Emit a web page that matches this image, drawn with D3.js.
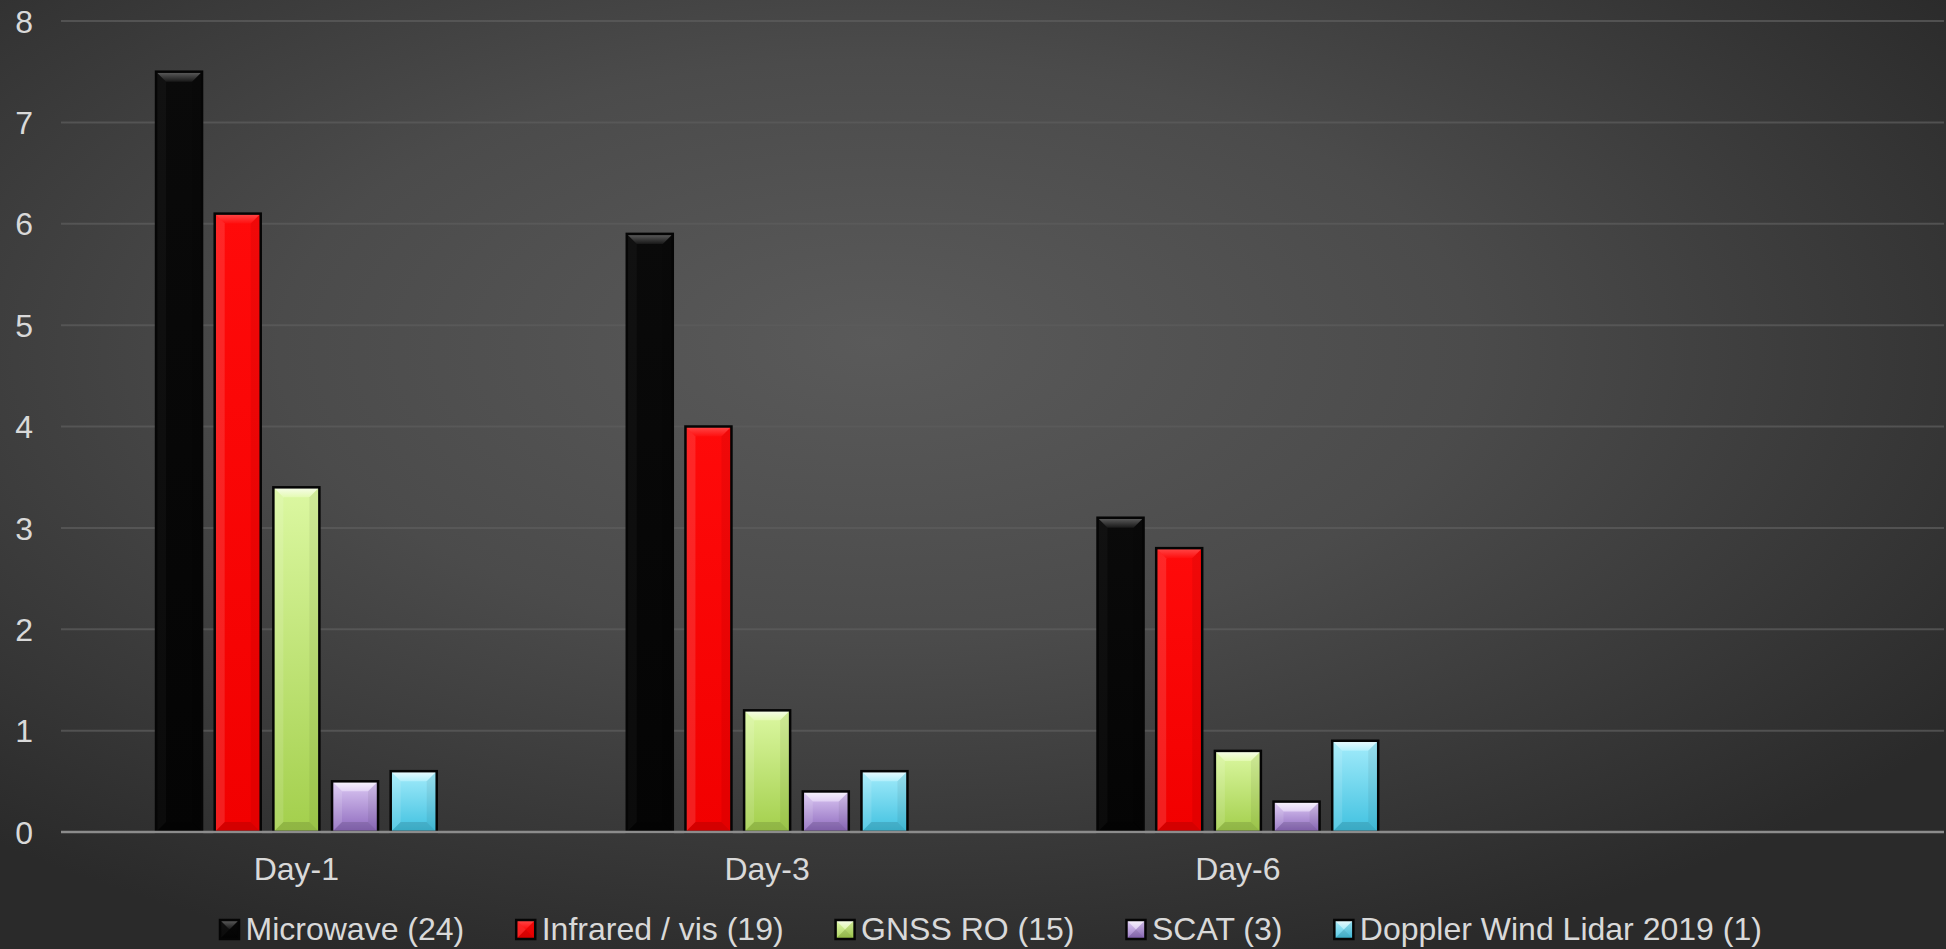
<!DOCTYPE html>
<html>
<head>
<meta charset="utf-8">
<script src="https://cdn.jsdelivr.net/npm/d3@7"></script>
<style>
  html, body { margin: 0; padding: 0; background: #2b2b2b; overflow: hidden; }
  svg { display: block; }
  text { font-family: "Liberation Sans", Arial, sans-serif; fill: #d9d9d9; }
</style>
</head>
<body>
<svg id="chart" width="1946" height="949"></svg>
<script>
// ---- data ----
const categories = ["Day-1", "Day-3", "Day-6", ""];
const seriesNames = ["Microwave (24)", "Infrared / vis (19)", "GNSS RO (15)", "SCAT (3)", "Doppler Wind Lidar 2019 (1)"];
const microwave = [7.5, 5.9, 3.1, null];
const infrared  = [6.1, 4.0, 2.8, null];
const gnss      = [3.4, 1.2, 0.8, null];
const scat      = [0.5, 0.4, 0.3, null];
const dwl       = [0.6, 0.6, 0.9, null];
const yTicks = [0, 1, 2, 3, 4, 5, 6, 7, 8];

const seriesValues = [microwave, infrared, gnss, scat, dwl];
const seriesStyle = [
  { top: "#0a0a0a", bottom: "#040404", bevel: "#6a6a6a", bevelEnd: "#1a1a1a" },
  { top: "#ff0a0a", bottom: "#f20000", bevel: "#ff5a5a", bevelEnd: "#ff1010" },
  { top: "#dcf8a2", bottom: "#a3cf4c", bevel: "#ffffff", bevelEnd: "#e6fbb8" },
  { top: "#ddcaf4", bottom: "#8d69bd", bevel: "#ffffff", bevelEnd: "#e6d8f7" },
  { top: "#a4ecfb", bottom: "#40c1e0", bevel: "#ffffff", bevelEnd: "#b8f1fc" }
];

const W = 1946, H = 949;
const FS = "32px";
const svg = d3.select("#chart");
const defs = svg.append("defs");

const bg = defs.append("radialGradient").attr("id", "bg")
  .attr("cx", 0.45).attr("cy", 0.38).attr("r", 0.68).attr("fx", 0.45).attr("fy", 0.36);
bg.append("stop").attr("offset", "0%").attr("stop-color", "#5a5a5a");
bg.append("stop").attr("offset", "45%").attr("stop-color", "#4b4b4b");
bg.append("stop").attr("offset", "100%").attr("stop-color", "#2a2a2a");
svg.append("rect").attr("width", W).attr("height", H).attr("fill", "url(#bg)");

seriesStyle.forEach((s, i) => {
  const g = defs.append("linearGradient").attr("id", "fill" + i)
    .attr("x1", 0).attr("y1", 0).attr("x2", 0).attr("y2", 1);
  g.append("stop").attr("offset", "0%").attr("stop-color", s.top);
  g.append("stop").attr("offset", "100%").attr("stop-color", s.bottom);
  const b = defs.append("linearGradient").attr("id", "bev" + i)
    .attr("x1", 0).attr("y1", 0).attr("x2", 0).attr("y2", 1);
  b.append("stop").attr("offset", "0%").attr("stop-color", s.bevel);
  b.append("stop").attr("offset", "100%").attr("stop-color", s.bevelEnd);
});

// ---- scales ----
const plotLeft = 61, plotRight = 1944, plotTop = 21, plotBottom = 832;
const y = d3.scaleLinear().domain([0, 8]).range([plotBottom, plotTop]);
const x0 = d3.scaleBand().domain(categories.map((c, i) => i)).range([plotLeft, plotRight]).padding(0);
const x1 = d3.scaleBand().domain(d3.range(seriesNames.length)).range([0, x0.bandwidth()])
  .paddingInner(0.216).paddingOuter(1.62);

svg.append("g").selectAll("line").data(yTicks.filter(t => t > 0)).join("line")
  .attr("x1", plotLeft).attr("x2", plotRight)
  .attr("y1", d => y(d)).attr("y2", d => y(d))
  .attr("stroke", "#5c5c5c").attr("stroke-opacity", 0.75).attr("stroke-width", 2);

const yAxis = d3.axisLeft(y).tickValues(yTicks).tickSize(0).tickPadding(0).tickFormat(d3.format("d"));
const yg = svg.append("g").attr("transform", `translate(${33},0)`).call(yAxis);
yg.select(".domain").remove();
yg.selectAll("text").style("font-size", FS).attr("fill", "#d9d9d9")
  .attr("font-family", "Liberation Sans, Arial, sans-serif").attr("dy", "0.35em");

function drawBar(g, bx, by, bw, bh, si) {
  const grp = g.append("g");
  grp.append("rect").attr("x", bx).attr("y", by).attr("width", bw).attr("height", bh)
    .attr("fill", `url(#fill${si})`);
  const b = Math.min(10, bh / 2, bw / 2);
  const x2 = bx + bw, y2 = by + bh;
  grp.append("path")
    .attr("d", `M${bx},${by}L${x2},${by}L${x2 - b},${by + b}L${bx + b},${by + b}Z`)
    .attr("fill", `url(#bev${si})`).attr("opacity", si === 0 ? 0.9 : 0.8);
  grp.append("path")
    .attr("d", `M${bx},${by}L${bx + b},${by + b}L${bx + b},${y2 - b}L${bx},${y2}Z`)
    .attr("fill", "#ffffff").attr("opacity", si === 0 ? 0.03 : 0.12);
  grp.append("path")
    .attr("d", `M${x2},${by}L${x2 - b},${by + b}L${x2 - b},${y2 - b}L${x2},${y2}Z`)
    .attr("fill", "#000000").attr("opacity", 0.06);
  grp.append("path")
    .attr("d", `M${bx},${y2}L${bx + b},${y2 - b}L${x2 - b},${y2 - b}L${x2},${y2}Z`)
    .attr("fill", "#000000").attr("opacity", 0.12);
  grp.append("rect").attr("x", bx).attr("y", by).attr("width", bw).attr("height", bh)
    .attr("fill", "none").attr("stroke", "#050505").attr("stroke-width", 2.5);
}

const barsG = svg.append("g");
seriesValues.forEach((vals, si) => {
  vals.forEach((v, ci) => {
    if (v == null) return;
    const bx = x0(ci) + x1(si);
    const by = y(v);
    drawBar(barsG, bx, by, x1.bandwidth(), y(0) - by, si);
  });
});

svg.append("line").attr("x1", plotLeft).attr("x2", plotRight)
  .attr("y1", y(0)).attr("y2", y(0)).attr("stroke", "#8c8c8c").attr("stroke-width", 2.5);

const xAxis = d3.axisBottom(x0).tickSize(0).tickPadding(0).tickFormat(i => categories[i]);
const xg = svg.append("g").attr("transform", `translate(0,${880})`).call(xAxis);
xg.select(".domain").remove();
xg.selectAll("text").style("font-size", FS).attr("fill", "#d9d9d9")
  .attr("font-family", "Liberation Sans, Arial, sans-serif").attr("dy", "0");

const legend = svg.append("g");
let lx = 220;
const legBase = 940;
seriesNames.forEach((name, si) => {
  drawBar(legend, lx, 920, 19, 19, si);
  const t = legend.append("text").attr("x", lx + 25.5).attr("y", legBase)
    .style("font-size", FS).text(name);
  const tw = t.node().getComputedTextLength();
  lx = lx + 25.5 + tw + 52;
});
</script>
</body>
</html>
